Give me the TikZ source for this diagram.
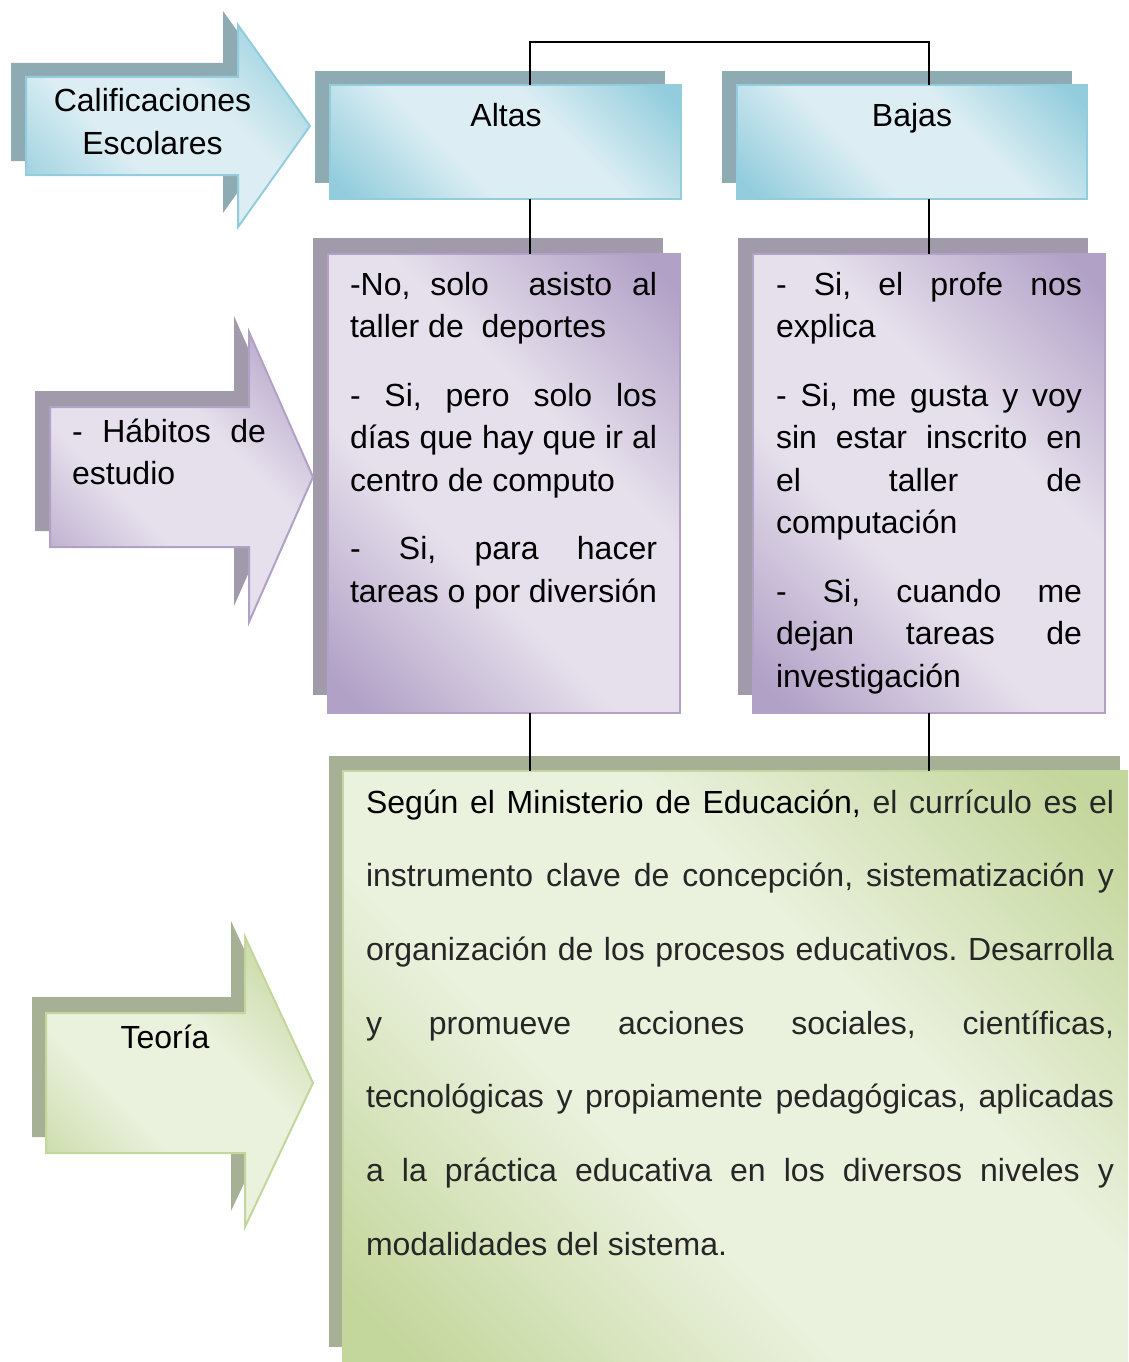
\documentclass[tikz,border=0pt]{standalone}
\usepackage{fontspec}
\setmainfont{Liberation Sans}
\definecolor{bdark}{HTML}{93CDDD}
\definecolor{blight}{HTML}{DCEEF3}
\definecolor{bshadow}{HTML}{8EABB3}
\definecolor{bborder}{HTML}{93CDDD}
\definecolor{pdark}{HTML}{B2A1C7}
\definecolor{plight}{HTML}{E6E0EC}
\definecolor{pshadow}{HTML}{A09AAA}
\definecolor{pborder}{HTML}{B2A1C7}
\definecolor{gdark}{HTML}{C3D69B}
\definecolor{glight}{HTML}{EAF1DD}
\definecolor{gshadow}{HTML}{A6B094}
\definecolor{gborder}{HTML}{C3D69B}
\definecolor{txtgray}{HTML}{262626}
\pgfdeclarehorizontalshading{bandb}{100bp}{color(0bp)=(bdark); color(18bp)=(bdark); color(40bp)=(blight); color(60bp)=(blight); color(82bp)=(bdark); color(100bp)=(bdark)}
\pgfdeclarehorizontalshading{bandp}{100bp}{color(0bp)=(pdark); color(18bp)=(pdark); color(40bp)=(plight); color(60bp)=(plight); color(82bp)=(pdark); color(100bp)=(pdark)}
\pgfdeclarehorizontalshading{bandg}{100bp}{color(0bp)=(gdark); color(18bp)=(gdark); color(40bp)=(glight); color(60bp)=(glight); color(82bp)=(gdark); color(100bp)=(gdark)}
\newcommand\jline[1]{\hbox to\hsize{#1}}
\newcommand\lline[1]{\hbox to\hsize{#1\hfil}}
\newcommand\centline[1]{\hbox to\hsize{\hfil#1\hfil}}
\frenchspacing
\begin{document}
\begin{tikzpicture}[x=1pt, y=-1pt,
  box/.style={rectangle, inner sep=0pt, outer sep=0pt, anchor=north west},
  shb/.style={box, fill=bshadow},
  shp/.style={box, fill=pshadow},
  shg/.style={box, fill=gshadow},
  frontb/.style={box, shading=bandb, shading angle=45, draw=bborder, line width=2pt},
  frontp/.style={box, shading=bandp, shading angle=45, draw=pborder, line width=2pt},
  frontg/.style={box, shading=bandg, shading angle=45, draw=gborder, line width=2pt},
  arrb/.style={shading=bandb, shading angle=45, draw=bborder, line width=2pt, line join=miter},
  arrp/.style={shading=bandp, shading angle=45, draw=pborder, line width=2pt, line join=miter},
  arrg/.style={shading=bandg, shading angle=45, draw=gborder, line width=2pt, line join=miter},
  conn/.style={draw=black, line width=1.3pt},
  txt/.style={inner sep=0pt, outer sep=0pt, font=\fontsize{32}{42.5}\selectfont, text=black}]
\useasboundingbox (0,0) rectangle (1128,1362);
\clip (0,0) rectangle (1128,1362);

% ---- shadows ----
\fill[bshadow, shift={(-15,-14)}] (26,77) -- (238,77) -- (238,25) -- (310,126) -- (238,227) -- (238,175) -- (26,175) -- cycle;
\fill[pshadow, shift={(-15,-16)}] (50,407) -- (249,407) -- (249,332) -- (313,477) -- (249,622) -- (249,547) -- (50,547) -- cycle;
\fill[gshadow, shift={(-14,-16)}] (46,1013) -- (245,1013) -- (245,937) -- (313,1083) -- (245,1227) -- (245,1153) -- (46,1153) -- cycle;

\node[shb, minimum width=350pt, minimum height=112pt] (altassh) at (315,71) {};
\node[shb, minimum width=350pt, minimum height=112pt] (bajassh) at (722,71) {};
\node[shp, minimum width=350pt, minimum height=457pt] (paltsh) at (313,238) {};
\node[shp, minimum width=350pt, minimum height=457pt] (pbajsh) at (738,238) {};
\node[shg, minimum width=791pt, minimum height=591pt] (greensh) at (329,756) {};

% ---- front shapes ----
\node[frontb, minimum width=351pt, minimum height=114pt] (altas) at (330,85) {};
\node[frontb, minimum width=350pt, minimum height=114pt] (bajas) at (737,85) {};
\node[frontp, minimum width=352pt, minimum height=459pt] (palt) at (328,254) {};
\node[frontp, minimum width=352pt, minimum height=459pt] (pbaj) at (753,254) {};
\node[frontg, minimum width=792pt, minimum height=594pt] (green) at (343,771) {};

\path[arrb] (26,77) -- (238,77) -- (238,25) -- (310,126) -- (238,227) -- (238,175) -- (26,175) -- cycle;
\path[arrp] (50,407) -- (249,407) -- (249,332) -- (313,477) -- (249,622) -- (249,547) -- (50,547) -- cycle;
\path[arrg] (46,1013) -- (245,1013) -- (245,937) -- (313,1083) -- (245,1227) -- (245,1153) -- (46,1153) -- cycle;

% ---- connectors ----
\coordinate (t1) at (530,42);
\coordinate (t2) at (929,42);
\draw[conn] (altas.north -| t1) -- (t1) -- (t2) -- (bajas.north -| t2);
\draw[conn] (altas.south -| t1) -- (palt.north -| t1);
\draw[conn] (bajas.south -| t2) -- (pbaj.north -| t2);
\draw[conn] (palt.south -| t1) -- (green.north -| t1);
\draw[conn] (pbaj.south -| t2) -- (green.north -| t2);

% ---- texts ----
\node[txt, anchor=base] (calif) at (152.5,112) {\vtop{\hsize=300pt\baselineskip=43pt
  \centline{Calificaciones}\centline{Escolares}}};
\node[txt, anchor=base] (altastxt) at (506,127) {Altas};
\node[txt, anchor=base] (bajastxt) at (912,127) {Bajas};
\node[txt, anchor=base] (teoria) at (165,1048) {Teoría};
\node[txt, anchor=base west] (habitos) at (72,442) {\vtop{\hsize=194pt\baselineskip=42pt
  \jline{- Hábitos de}\lline{estudio}}};
\node[txt, anchor=base west] (paltxt) at (350,295) {\vtop{\hsize=307pt\baselineskip=42.5pt
  \jline{-No, solo\ \ asisto al}\lline{taller de\ \ deportes}\vskip26pt
  \jline{- Si, pero solo los}\jline{días que hay que ir al}\lline{centro de computo}\vskip26pt
  \jline{- Si, para hacer}\lline{tareas o por diversión}}};
\node[txt, anchor=base west] (pbajtxt) at (776,295) {\vtop{\hsize=306pt\baselineskip=42.5pt
  \jline{- Si, el profe nos}\lline{explica}\vskip26pt
  \jline{- Si, me gusta y voy}\jline{sin estar inscrito en}\jline{el taller de}\lline{computación}\vskip26pt
  \jline{- Si, cuando me}\jline{dejan tareas de}\lline{investigación}}};
\node[txt, anchor=base west, text=txtgray] (greentxt) at (366,813) {\vtop{\hsize=748pt\baselineskip=73.7pt
  \jline{\textcolor{black}{Según el Ministerio de Educación,} el currículo es el}
  \jline{instrumento clave de concepción, sistematización y}
  \jline{organización de los procesos educativos. Desarrolla}
  \jline{y promueve acciones sociales, científicas,}
  \jline{tecnológicas y propiamente pedagógicas, aplicadas}
  \jline{a la práctica educativa en los diversos niveles y}
  \lline{modalidades del sistema.}}};
\end{tikzpicture}
\end{document}
